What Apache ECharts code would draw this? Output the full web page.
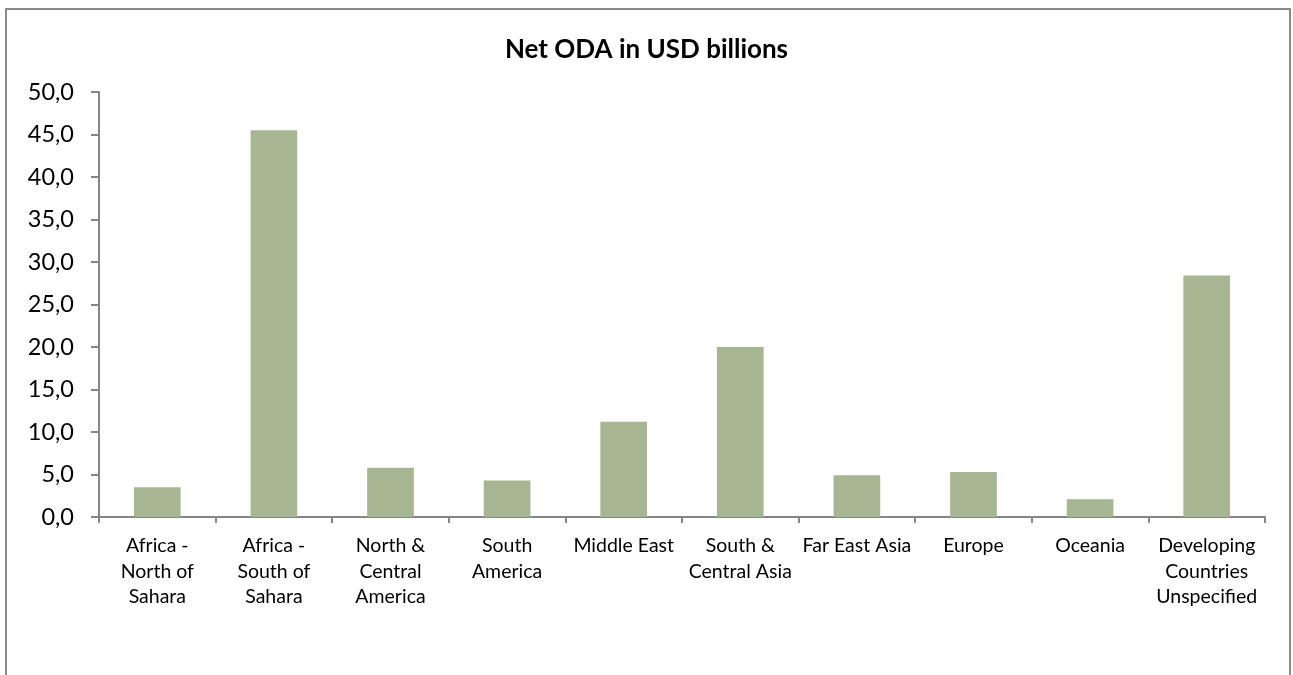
<!DOCTYPE html>
<html>
<head>
<meta charset="utf-8">
<script src="https://cdn.jsdelivr.net/npm/echarts@6/dist/echarts.min.js"></script>
<style>
  html, body { margin: 0; padding: 0; background: #fff; }
  #chart { width: 1293px; height: 675px; }
</style>
</head>
<body>
<div id="chart"></div>
<script>
// Regions receiving net ODA (labels wrapped as shown on the axis)
const categories = [
  'Africa -\nNorth of\nSahara',
  'Africa -\nSouth of\nSahara',
  'North &\nCentral\nAmerica',
  'South\nAmerica',
  'Middle East',
  'South &\nCentral Asia',
  'Far East Asia',
  'Europe',
  'Oceania',
  'Developing\nCountries\nUnspecified'
];

// Net ODA, USD billions
const netOda = [3.5, 45.5, 5.8, 4.3, 11.2, 20.0, 4.9, 5.3, 2.1, 28.4];

// Value axis range
const yMin = 0;
const yMax = 50;
const yStep = 5;

const FONT = 'Lato, "Open Sans", sans-serif';
const axisGrey = '#868686';

const chart = echarts.init(document.getElementById('chart'), null, { renderer: 'canvas' });

chart.setOption({
  animation: false,
  backgroundColor: '#ffffff',
  title: {
    text: 'Net ODA in USD billions',
    left: 'center',
    top: 32,
    textStyle: { fontFamily: FONT, fontSize: 26, fontWeight: 'bold', color: '#000' }
  },
  graphic: [{
    type: 'rect',
    shape: { x: 6, y: 9, width: 1284, height: 700 },
    style: { fill: 'none', stroke: '#8a8a8a', lineWidth: 2 },
    silent: true
  }],
  grid: { left: 99, right: 28, top: 92, bottom: 158, containLabel: false },
  xAxis: {
    type: 'category',
    data: categories,
    axisLine: { show: true, lineStyle: { color: axisGrey, width: 2 } },
    axisTick: { show: true, length: 6, inside: false, lineStyle: { color: axisGrey, width: 2 } },
    axisLabel: {
      interval: 0,
      margin: 16,
      fontFamily: FONT,
      fontSize: 19.5,
      lineHeight: 25.5,
      color: '#000'
    },
    splitLine: { show: false }
  },
  yAxis: {
    type: 'value',
    min: yMin,
    max: yMax,
    interval: yStep,
    axisLine: { show: true, lineStyle: { color: axisGrey, width: 2 } },
    axisTick: { show: true, length: 8, inside: false, lineStyle: { color: axisGrey, width: 2 } },
    axisLabel: {
      margin: 25,
      fontFamily: FONT,
      fontSize: 23.5,
      color: '#000',
      formatter: v => v.toFixed(1).replace('.', ',')
    },
    splitLine: { show: false }
  },
  series: [{
    type: 'bar',
    data: netOda,
    barWidth: '40%',
    itemStyle: { color: '#a6b592' }
  }]
});
</script>
</body>
</html>
